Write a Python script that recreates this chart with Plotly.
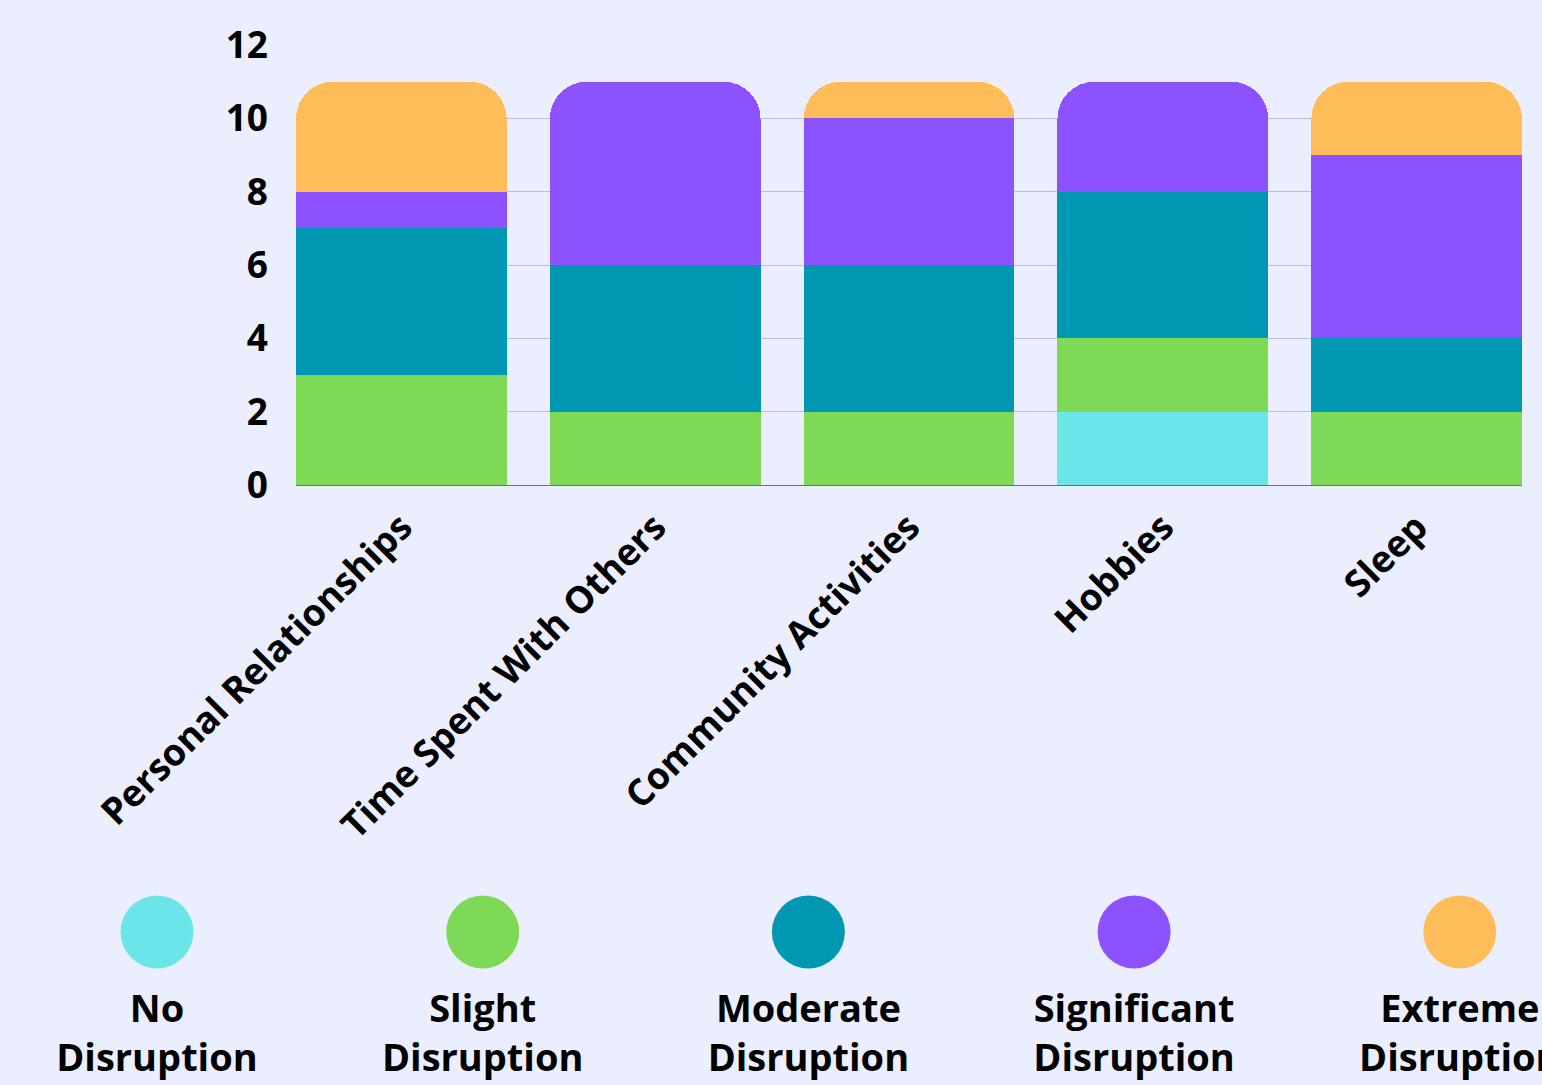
import plotly.graph_objects as go

categories = ["Personal Relationships", "Time Spent With Others", "Community Activities", "Hobbies", "Sleep"]
series_names = ["No<br>Disruption", "Slight<br>Disruption", "Moderate<br>Disruption",
                "Significant<br>Disruption", "Extreme<br>Disruption"]
no_disruption = [0, 0, 0, 2, 0]
slight = [3, 2, 2, 2, 2]
moderate = [4, 4, 4, 4, 2]
significant = [1, 5, 4, 3, 5]
extreme = [3, 0, 1, 0, 2]
colors = ["#6CE5E8", "#7ED957", "#0097B2", "#8C52FF", "#FFBD59"]
y_ticks = [0, 2, 4, 6, 8, 10, 12]

FONT = "Open Sans"
BG = "#EBEEFF"

fig = go.Figure()
for name, vals, col in zip(series_names, [no_disruption, slight, moderate, significant, extreme], colors):
    fig.add_trace(go.Bar(x=list(range(len(categories))), y=vals, name=name.replace("<br>", " "),
                         marker=dict(color=col, line=dict(width=0)), showlegend=False,
                         xaxis="x", yaxis="y"))

# legend-like row of circles with labels underneath
idx = list(range(len(series_names)))
fig.add_trace(go.Scatter(x=idx, y=[0] * len(series_names), mode="markers",
                         marker=dict(size=73, color=colors, line=dict(width=0)),
                         cliponaxis=False, showlegend=False, hoverinfo="skip",
                         xaxis="x2", yaxis="y2"))
fig.add_trace(go.Scatter(x=idx, y=[0] * len(series_names), mode="markers+text",
                         text=series_names, textposition="bottom center",
                         marker=dict(size=96, color="rgba(0,0,0,0)", line=dict(width=0)),
                         textfont=dict(family=FONT, size=38, color="#000000", weight=700),
                         cliponaxis=False, showlegend=False, hoverinfo="skip",
                         xaxis="x2", yaxis="y2"))

W, H = 1542, 1085
fig.update_layout(
    width=W, height=H,
    margin=dict(l=0, r=0, t=0, b=0),
    paper_bgcolor=BG, plot_bgcolor=BG,
    barmode="stack", bargap=0.17, barcornerradius=37,
    xaxis=dict(domain=[296 / W, 1522 / W], range=[-0.415, 4.415],
               tickmode="array", tickvals=list(range(len(categories))), ticktext=categories,
               tickangle=-45, showgrid=False, zeroline=False, showline=False,
               tickfont=dict(family=FONT, size=37, color="#000000", weight=700),
               ticks="", ticklabelstandoff=12, automargin=False, anchor="y"),
    yaxis=dict(domain=[1 - 485 / H, 1 - 45 / H], range=[0, 12],
               tickmode="array", tickvals=y_ticks,
               showgrid=True, gridcolor="#BCBFD1", gridwidth=1.3,
               zeroline=True, zerolinecolor="#6E6F7A", zerolinewidth=1.3,
               showline=False, ticks="", ticklabelstandoff=27,
               tickfont=dict(family=FONT, size=37, color="#000000", weight=700),
               automargin=False, anchor="x"),
    xaxis2=dict(domain=[0, 1], range=[-0.482, 4.2524], visible=False, anchor="y2"),
    yaxis2=dict(domain=[0, 0.2], range=[-0.705, 0.295], visible=False, anchor="x2"),
)

fig.write_html("out.html")
